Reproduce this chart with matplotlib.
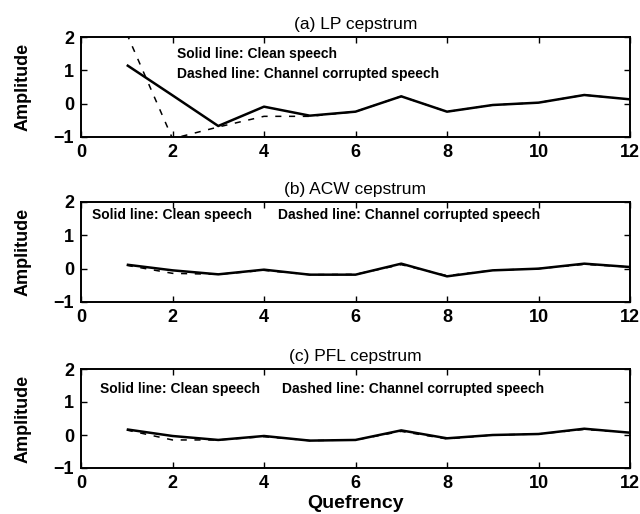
import matplotlib
matplotlib.use("Agg")
import matplotlib.pyplot as plt

plt.rcParams['font.family'] = ['Liberation Sans', 'DejaVu Sans']

quefrency = [1, 2, 3, 4, 5, 6, 7, 8, 9, 10, 11, 12]

lp_clean   = [1.16, 0.25, -0.67, -0.09, -0.36, -0.24, 0.22, -0.24, -0.04, 0.03, 0.26, 0.13]
lp_channel = [2.10, -1.05, -0.70, -0.38, -0.38, -0.24, 0.22, -0.24, -0.04, 0.03, 0.26, 0.13]

acw_clean   = [0.12, -0.05, -0.17, -0.03, -0.18, -0.18, 0.15, -0.23, -0.05, 0.00, 0.15, 0.05]
acw_channel = [0.10, -0.14, -0.17, -0.05, -0.18, -0.17, 0.12, -0.21, -0.05, 0.00, 0.13, 0.05]

pfl_clean   = [0.17, -0.03, -0.15, -0.03, -0.17, -0.15, 0.14, -0.10, 0.00, 0.03, 0.19, 0.07]
pfl_channel = [0.15, -0.15, -0.15, -0.05, -0.17, -0.15, 0.11, -0.12, 0.00, 0.03, 0.17, 0.07]

titles = ["(a) LP cepstrum", "(b) ACW cepstrum", "(c) PFL cepstrum"]
xticks = [0, 2, 4, 6, 8, 10, 12]
yticks = [-1, 0, 1, 2]
solid_text = "Solid line: Clean speech"
dashed_text = "Dashed line: Channel corrupted speech"

fig = plt.figure(figsize=(6.4, 5.14), dpi=100)
W, H = 640, 514
left_px, right_px = 81, 630
panels_px = [(37, 137), (202, 302), (369, 468)]
series = [(lp_clean, lp_channel), (acw_clean, acw_channel), (pfl_clean, pfl_channel)]

for i, ((top, bot), (clean, chan)) in enumerate(zip(panels_px, series)):
    ax = fig.add_axes([left_px / W, 1 - bot / H, (right_px - left_px) / W, (bot - top) / H])
    ax.plot(quefrency, clean, color='black', lw=1.8, solid_capstyle='butt')
    ax.plot(quefrency, chan, color='black', lw=1.1, ls=(0, (4, 5)))
    ax.set_xlim(0, 12)
    ax.set_ylim(-1, 2)
    ax.set_xticks(xticks)
    ax.set_yticks(yticks)
    ax.tick_params(direction='in', top=True, right=True, length=4, width=1.0,
                   labelsize=13, pad=5)
    for lab in ax.get_xticklabels() + ax.get_yticklabels():
        lab.set_fontweight('bold')
    for s in ax.spines.values():
        s.set_linewidth(1.4)
    ax.set_title(titles[i], fontsize=12.5, pad=6)
    ax.set_ylabel("Amplitude", fontsize=13, fontweight='bold', labelpad=16)
    if i == 0:
        ax.text(2.1, 1.5, solid_text, fontsize=10, fontweight='bold', va='center', ha='left')
        ax.text(2.1, 0.9, dashed_text, fontsize=10, fontweight='bold', va='center', ha='left')
    elif i == 1:
        ax.text(0.24, 1.6, solid_text, fontsize=10, fontweight='bold', va='center', ha='left')
        ax.text(4.3, 1.6, dashed_text, fontsize=10, fontweight='bold', va='center', ha='left')
    else:
        ax.text(0.42, 1.4, solid_text, fontsize=10, fontweight='bold', va='center', ha='left')
        ax.text(4.4, 1.4, dashed_text, fontsize=10, fontweight='bold', va='center', ha='left')
    if i == 2:
        ax.set_xlabel("Quefrency", fontsize=14, fontweight='bold', labelpad=2)

fig.savefig("out.png", dpi=100)
